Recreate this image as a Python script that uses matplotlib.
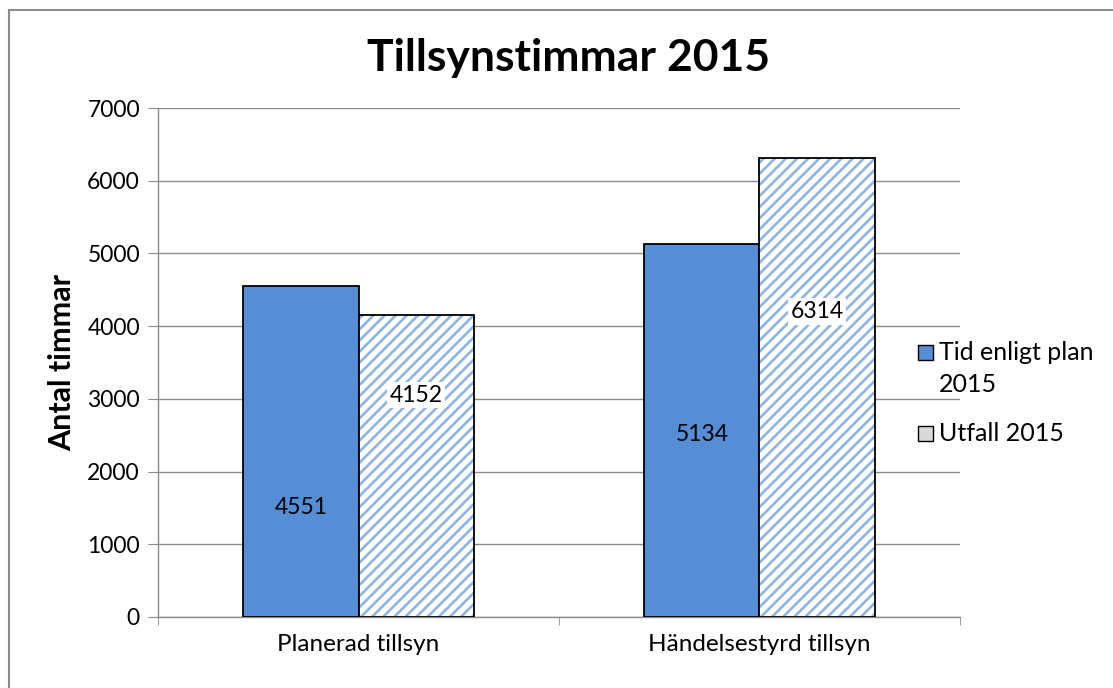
import numpy as np
import matplotlib.pyplot as plt
from matplotlib.patches import Rectangle

plt.rcParams['font.family'] = ['Lato', 'DejaVu Sans']
plt.rcParams['hatch.linewidth'] = 1.9

categories = ['Planerad tillsyn', 'Händelsestyrd tillsyn']
plan = [4551, 5134]
utfall = [4152, 6314]
series_names = ['Tid enligt plan\n2015', 'Utfall 2015']

# where the value labels sit inside the bars (fraction of bar height)
label_frac_plan = [0.33, 0.49]
label_frac_utfall = [0.735, 0.665]

fig = plt.figure(figsize=(11.13, 6.88), dpi=100)
ax = fig.add_axes([0.142, 0.1032, 0.7205, 0.7398])

# outer chart frame (only top/left edge fall inside the image)
fig.patches.append(Rectangle((9 / 1113, -1), 2, 2 - 10 / 688, transform=fig.transFigure,
                             fill=False, edgecolor='#8c8c8c', linewidth=1.5))

x = np.arange(len(categories))
w = 0.287
blue = '#558ED5'
ax.bar(x - w / 2, plan, w, color=blue, edgecolor='black', linewidth=1.3, zorder=3)
ax.bar(x + w / 2, utfall, w, color='white', edgecolor='#8DB4E2', hatch='///', linewidth=0, zorder=3)
ax.bar(x + w / 2, utfall, w, fill=False, edgecolor='black', linewidth=1.3, zorder=4)

for i in range(len(categories)):
    ax.text(x[i] - w / 2, plan[i] * label_frac_plan[i], str(plan[i]), ha='center', va='center',
            fontsize=16.5, zorder=5)
    ax.text(x[i] + w / 2, utfall[i] * label_frac_utfall[i], str(utfall[i]), ha='center', va='center',
            fontsize=16.5, zorder=5, bbox=dict(facecolor='white', edgecolor='none', pad=2))

ax.set_xlim(-0.5, 1.5)
ax.set_ylim(0, 7000)
ax.set_yticks(np.arange(0, 7001, 1000))
ax.yaxis.grid(True, color='#8c8c8c', linewidth=1, zorder=0)
ax.set_axisbelow(True)
ax.set_xticks(x)
ax.set_xticklabels(categories, fontsize=17.5)
ax.set_xticks([-0.5, 0.5, 1.5], minor=True)
ax.tick_params(axis='x', which='major', length=0, pad=12)
ax.tick_params(axis='x', which='minor', length=6, color='#8c8c8c', direction='out')
ax.tick_params(axis='y', length=7, color='#8c8c8c', labelsize=16.5, pad=6)
for s in ['top', 'right']:
    ax.spines[s].set_visible(False)
for s in ['left', 'bottom']:
    ax.spines[s].set_color('#8c8c8c')
    ax.spines[s].set_linewidth(1)

ax.set_ylabel('Antal timmar', fontsize=22, fontweight='bold', labelpad=8)
fig.suptitle('Tillsynstimmar 2015', x=0.511, fontsize=32, fontweight='bold', y=0.945)

# legend drawn by hand so the marker lines up with the first text line
leg_colors = [blue, '#d9d9d9']
leg_y = [352, 433]
for name, col, yy in zip(series_names, leg_colors, leg_y):
    yf = 1 - yy / 688
    fig.patches.append(Rectangle((918 / 1113, yf - 7.5 / 688), 15 / 1113, 15 / 688,
                                 transform=fig.transFigure, facecolor=col,
                                 edgecolor='black', linewidth=1))
    fig.text(939 / 1113, yf + 11 / 688, name, ha='left', va='top', fontsize=18,
             linespacing=1.45)

fig.savefig('out.png', dpi=100)
